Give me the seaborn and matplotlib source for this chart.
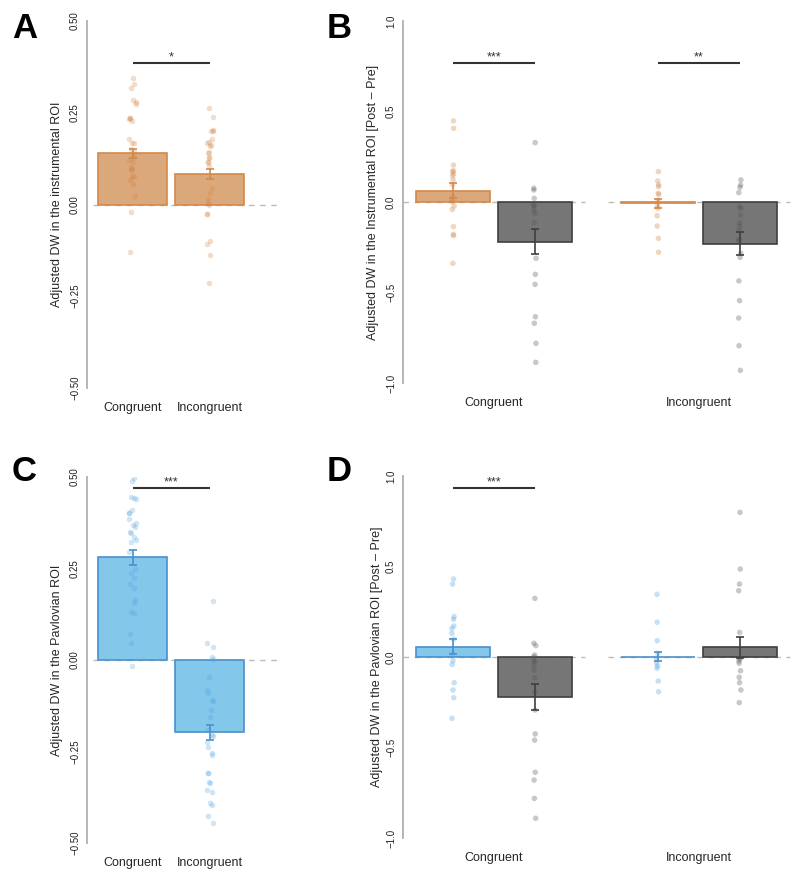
import numpy as np
import pandas as pd
import matplotlib
matplotlib.use('Agg')
import matplotlib.pyplot as plt
import matplotlib.colors as mcolors
import seaborn as sns

# Dane
warunki = ['Congruent', 'Incongruent']
grupy = ['roi', 'other']

# A - instrumental ROI
a_mean = [0.139, 0.083]
a_se = [0.012, 0.013]
a_cong = [0.344, 0.328, 0.317, 0.285, 0.278, 0.273, 0.237, 0.235, 0.232, 0.228,
          0.179, 0.168, 0.168, 0.150, 0.144, 0.130, 0.121, 0.117, 0.103, 0.098,
          0.094, 0.077, 0.074, 0.066, 0.057, 0.023, -0.020, -0.129]
a_incong = [0.264, 0.238, 0.203, 0.200, 0.199, 0.179, 0.171, 0.168, 0.162, 0.159,
            0.144, 0.139, 0.130, 0.126, 0.116, 0.117, 0.105, 0.044, 0.032, 0.016,
            0.005, 0.000, -0.026, -0.026, -0.100, -0.108, -0.138, -0.213]

# B - instrumental ROI post - pre (kolejnosc: cong-roi, cong-other, incong-roi, incong-other)
b_mean = [0.063, -0.219, -0.008, -0.231]
b_se = [0.040, 0.069, 0.023, 0.064]
b_roi_cong = [0.448, 0.407, 0.204, 0.173, 0.168, 0.155, 0.144, 0.122, 0.095, 0.029,
              0.011, 0.002, -0.022, -0.041, -0.136, -0.179, -0.186, -0.339]
b_oth_cong = [0.328, 0.076, 0.066, 0.020, -0.017, -0.022, -0.044, -0.063, -0.114,
              -0.311, -0.400, -0.455, -0.634, -0.670, -0.781, -0.886]
b_roi_incong = [0.168, 0.116, 0.094, 0.085, 0.048, 0.042, 0.011, -0.017, -0.035,
                -0.076, -0.133, -0.201, -0.278]
b_oth_incong = [0.122, 0.094, 0.081, 0.052, -0.026, -0.035, -0.072, -0.114, -0.133,
                -0.155, -0.206, -0.214, -0.284, -0.306, -0.436, -0.545, -0.641,
                -0.794, -0.930]

# C - pavlovian ROI
c_mean = [0.2805, -0.1976]
c_se = [0.021, 0.020]
c_cong = [0.496, 0.489, 0.446, 0.442, 0.439, 0.410, 0.403, 0.401, 0.384, 0.373,
          0.369, 0.364, 0.351, 0.346, 0.337, 0.328, 0.323, 0.296, 0.248, 0.237,
          0.223, 0.209, 0.196, 0.164, 0.155, 0.132, 0.128, 0.071, 0.046, -0.016]
c_incong = [0.162, 0.047, 0.036, 0.009, 0.002, -0.047, -0.082, -0.089, -0.109,
            -0.112, -0.137, -0.157, -0.191, -0.205, -0.209, -0.223, -0.237, -0.255,
            -0.260, -0.308, -0.310, -0.333, -0.335, -0.355, -0.362, -0.392, -0.396,
            -0.426, -0.444]

# D - pavlovian ROI post - pre
d_mean = [0.056, -0.221, 0.002, 0.053]
d_se = [0.041, 0.070, 0.025, 0.056]
d_roi_cong = [0.431, 0.403, 0.223, 0.208, 0.171, 0.158, 0.131, 0.098, 0.020, -0.020,
              -0.041, -0.142, -0.182, -0.225, -0.339]
d_oth_cong = [0.324, 0.076, 0.063, 0.011, 0.002, -0.022, -0.026, -0.048, -0.072,
              -0.114, -0.193, -0.293, -0.425, -0.459, -0.637, -0.680, -0.781, -0.891]
d_roi_incong = [0.346, 0.192, 0.090, 0.020, -0.017, -0.035, -0.050, -0.063, -0.133,
                -0.192]
d_oth_incong = [0.799, 0.486, 0.403, 0.366, 0.136, -0.004, -0.011, -0.022, -0.035,
                -0.076, -0.112, -0.142, -0.182, -0.252]

# Kolory
ORANGE_FILL, ORANGE_EDGE, ORANGE_PT = '#DBA87C', '#D4894A', '#D0803E'
BLUE_FILL, BLUE_EDGE, BLUE_PT = '#83C7EB', '#4A90CC', '#4FA3E0'
GREY_FILL, GREY_EDGE, GREY_PT = '#767676', '#3F3F3F', '#555555'
edges = {mcolors.to_hex(ORANGE_FILL): ORANGE_EDGE,
         mcolors.to_hex(BLUE_FILL): BLUE_EDGE,
         mcolors.to_hex(GREY_FILL): GREY_EDGE}

sns.set_style('white')
plt.rcParams['font.family'] = ['Liberation Sans', 'DejaVu Sans']
np.random.seed(3)

fig = plt.figure(figsize=(8, 8.81), dpi=100)


def px_axes(left, top, right, bottom):
    return fig.add_axes([left / 800, 1 - bottom / 881,
                         (right - left) / 800, (bottom - top) / 881])


def style(ax, ylim, ticks, ticklabels, ylabel, label_x):
    ax.set_ylim(*ylim)
    ax.set_yticks(ticks)
    ax.set_yticklabels(ticklabels)
    for s in ['top', 'right', 'bottom']:
        ax.spines[s].set_visible(False)
    ax.spines['left'].set_color('#B0B0B0')
    ax.spines['left'].set_linewidth(1.3)
    ax.tick_params(axis='y', length=3, width=1, color='#B0B0B0', labelsize=7,
                   pad=2, labelcolor='#222222')
    for lab in ax.get_yticklabels():
        lab.set_rotation(90)
        lab.set_va('center')
    ax.tick_params(axis='x', length=0, labelsize=9, pad=10)
    ax.set_xlabel('')
    ax.set_ylabel(ylabel, fontsize=9, va='center')
    ax.yaxis.set_label_coords(label_x, 0.5)


def add_errorbars(ax, se):
    bars = sorted(ax.patches, key=lambda p: p.get_x())
    for p, e in zip(bars, se):
        col = edges[mcolors.to_hex(p.get_facecolor())]
        p.set_edgecolor(col)
        p.set_linewidth(1.2)
        ax.errorbar(p.get_x() + p.get_width() / 2, p.get_height(), yerr=e,
                    fmt='none', ecolor=col, elinewidth=1.2, capsize=3,
                    capthick=1.2, zorder=5)


def two_panel(ax, means, se, cong, incong, fill, pt, jit):
    df = pd.DataFrame({'cond': warunki, 'mean': means})
    sns.barplot(data=df, x='cond', y='mean', hue='cond', order=warunki,
                palette=[fill, fill], saturation=1, width=0.9, errorbar=None,
                legend=False, ax=ax, zorder=2)
    pts = pd.DataFrame({'cond': ['Congruent'] * len(cong) + ['Incongruent'] * len(incong),
                        'val': cong + incong})
    sns.stripplot(data=pts, x='cond', y='val', order=warunki, color=pt, alpha=0.27,
                  size=4, jitter=jit, linewidth=0, ax=ax, zorder=3)
    add_errorbars(ax, se)
    ax.hlines(0, -0.51, 1.94, colors='#BBBBBB', linestyles=(0, (4, 4)), lw=1, zorder=1)
    ax.set_xlim(-0.59, 1.95)


def four_panel(ax, means, se, rc, oc, ri, oi, fill, pt):
    df = pd.DataFrame({'cond': ['Congruent', 'Congruent', 'Incongruent', 'Incongruent'],
                       'grp': ['roi', 'other', 'roi', 'other'], 'mean': means})
    sns.barplot(data=df, x='cond', y='mean', hue='grp', order=warunki, hue_order=grupy,
                palette=[fill, GREY_FILL], saturation=1, width=0.8, gap=0.1,
                errorbar=None, legend=False, ax=ax, zorder=2)
    pts = pd.DataFrame({
        'cond': ['Congruent'] * (len(rc) + len(oc)) + ['Incongruent'] * (len(ri) + len(oi)),
        'grp': ['roi'] * len(rc) + ['other'] * len(oc) + ['roi'] * len(ri) + ['other'] * len(oi),
        'val': rc + oc + ri + oi})
    sns.stripplot(data=pts, x='cond', y='val', hue='grp', order=warunki, hue_order=grupy,
                  dodge=True, palette=[pt, GREY_PT], alpha=0.32, size=4, jitter=0.012,
                  linewidth=0, legend=False, ax=ax, zorder=3)
    add_errorbars(ax, se)
    ax.hlines([0, 0], [-0.444, 0.556], [0.444, 1.444], colors='#BBBBBB',
              linestyles=(0, (4, 4)), lw=1, zorder=1)
    ax.set_xlim(-0.444, 1.45)


def signif(ax, x0, x1, y, stars):
    ax.plot([x0, x1], [y, y], color='#333333', lw=1.5, solid_capstyle='butt', zorder=6)
    ax.text((x0 + x1) / 2, y, stars, ha='center', va='bottom', fontsize=9, color='#333333')


ticks_small = [-0.5, -0.25, 0, 0.25, 0.5]
labels_small = ['\u22120.50', '\u22120.25', '0.00', '0.25', '0.50']
ticks_big = [-1, -0.5, 0, 0.5, 1]
labels_big = ['\u22121.0', '\u22120.5', '0.0', '0.5', '1.0']

# Panel A
axA = px_axes(87, 21, 283, 388)
two_panel(axA, a_mean, a_se, a_cong, a_incong, ORANGE_FILL, ORANGE_PT, 0.05)
signif(axA, 0, 1, 0.385, '*')
style(axA, (-0.5, 0.5), ticks_small, labels_small,
      'Adjusted DW in the instrumental ROI', -0.153)

# Panel B
axB = px_axes(403, 21, 791, 383)
four_panel(axB, b_mean, b_se, b_roi_cong, b_oth_cong, b_roi_incong, b_oth_incong,
           ORANGE_FILL, ORANGE_PT)
signif(axB, -0.2, 0.2, 0.768, '***')
signif(axB, 0.8, 1.2, 0.768, '**')
style(axB, (-1, 1), ticks_big, labels_big,
      'Adjusted DW in the Instrumental ROI [Post \u2013 Pre]', -0.077)

# Panel C
axC = px_axes(87, 477, 283, 843)
two_panel(axC, c_mean, c_se, c_cong, c_incong, BLUE_FILL, BLUE_PT, 0.05)
signif(axC, 0, 1, 0.47, '***')
style(axC, (-0.5, 0.5), ticks_small, labels_small,
      'Adjusted DW in the Pavlovian ROI', -0.153)

# Panel D
axD = px_axes(403, 476, 791, 838)
four_panel(axD, d_mean, d_se, d_roi_cong, d_oth_cong, d_roi_incong, d_oth_incong,
           BLUE_FILL, BLUE_PT)
signif(axD, -0.2, 0.2, 0.934, '***')
style(axD, (-1, 1), ticks_big, labels_big,
      'Adjusted DW in the Pavlovian ROI [Post \u2013 Pre]', -0.067)

# Litery paneli
for lit, x, y in [('A', 12, 12), ('B', 327, 12), ('C', 12, 455), ('D', 327, 455)]:
    fig.text(x / 800, 1 - y / 881, lit, ha='left', va='top', fontsize=25,
             fontweight='bold', color='black')

plt.savefig('out.png', dpi=100)
